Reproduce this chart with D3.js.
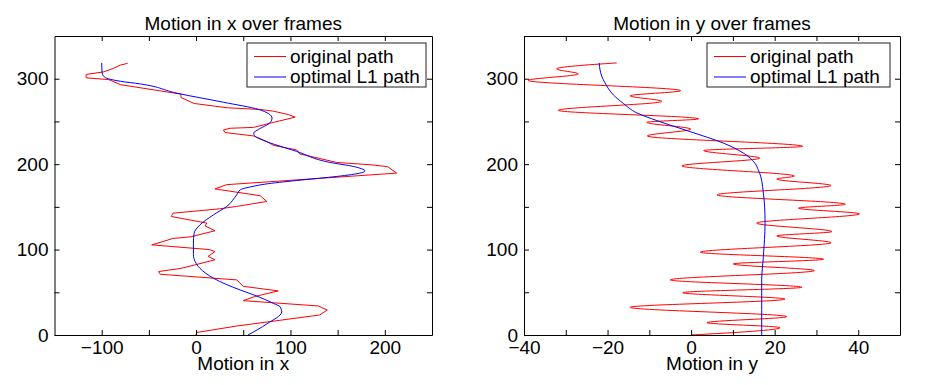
<!DOCTYPE html>
<html>
<head>
<meta charset="utf-8">
<script src="https://cdn.jsdelivr.net/npm/d3@7"></script>
<style>
  html, body { margin: 0; padding: 0; background: #fff; }
  svg text { font-family: "Liberation Sans", Arial, Helvetica, sans-serif; fill: #000; }
</style>
</head>
<body>
<svg id="chart" width="940" height="385"></svg>
<script>
// ---------------- DATA ----------------
// Left panel: motion in x (value) vs frame
const xOrigFrames = [0, 3, 10.5, 23.4, 29.3, 34, 40.2, 45, 51.6, 57, 64.5, 71.1, 74.3, 78, 82, 88, 92, 97.7, 100, 105.5, 109.4, 113, 115, 122, 127.7, 131, 138.7, 142.6, 147.7, 150.5, 156.3, 163, 171, 176, 189.5, 197, 199, 202, 212, 216.6, 222, 226.5, 233, 237, 240, 242, 243, 247, 255, 258, 262, 264, 266, 271, 278, 282, 293, 299, 301, 305, 308, 311.5, 316, 318];
const xOrigValues = [0, 1, 43, 131, 139, 129.6, 50, 62, 87, 50, 43, -38, -39.6, -16, -1.4, 20, 12.7, 20, 14, -47, -35, -24.7, -5.4, 20, 9.6, 11.3, -26.2, -24.5, 25, 43, 75, 68, 20, 32.5, 212.6, 203, 187.7, 149, 110, 106.6, 82, 75, 61, 30.7, 29, 36, 61, 75, 105, 98, 82, 68, 33, -2, -16, -16, -80, -92.6, -116.5, -116.5, -98, -89, -80, -72.5];
const xOptFrames = [0, 13, 27, 33, 37, 47, 52.6, 66.5, 78, 86, 94, 107.5, 119, 129, 140.6, 150.5, 164, 170, 175, 192, 197.3, 202, 214.9, 227.8, 232.5, 236.4, 239.5, 249, 254, 259, 264, 272.4, 283, 293.9, 297, 299.8, 303, 306.8, 318.5];
const xOptValues = [55, 75, 90.7, 89, 82, 61, 47, 18.4, 4.2, -1, -2.8, -2.8, -2.1, 4.2, 18.4, 32.5, 43, 47, 64.7, 179, 166.7, 142, 106.6, 71.4, 62.6, 61, 64.5, 78.8, 80.5, 77, 66.4, 29.3, -20, -59, -80, -92.6, -98, -99.5, -100];

// Right panel: motion in y (value) vs frame
const yOrigFrames = [0, 8.6, 14.5, 21.5, 32.4, 42, 49.6, 55.9, 64.5, 75.4, 83.2, 88.7, 96.9, 108, 116, 121, 131, 141.8, 148.5, 153, 164, 175, 182.5, 186, 198, 207, 216, 220.8, 233, 241, 249, 253, 263, 273.5, 280, 286, 298, 305.6, 311.5, 318.5];
const yOrigValues = [0, 21.3, 3.8, 22.9, -14.6, 22.5, -2, 26.5, -5, 29.5, 10.1, 31.7, 2.2, 33.5, 20.5, 33.7, 15.7, 40.3, 25.7, 36.9, 6.2, 33.5, 20.5, 24.7, -2.2, 16.4, 3, 26.7, -10.5, -0.1, -10.6, 1.8, -31.8, -7, -14.6, -2.5, -39, -27, -32.2, -17.8];
const yOptFrames = [0, 30, 64.5, 92, 131, 150, 166, 174, 185, 193, 201, 213, 224.7, 238, 251, 260, 271, 281, 295, 303, 318.5];
const yOptValues = [16.9, 16.9, 16.9, 17.3, 17.7, 17.6, 17.3, 17.1, 16.7, 16.1, 15.3, 12.5, 7.7, -0.2, -8.2, -13, -16.2, -18.6, -20.6, -21.4, -22];

// Axes / ticks
const frameDomain = [0, 350];
const frameTicks = [0, 50, 100, 150, 200, 250, 300];
const frameTickLabels = [0, 100, 200, 300];
const xDomain = [-150, 250];
const xTicks = [-100, -50, 0, 50, 100, 150, 200];
const xTickLabels = [-100, 0, 100, 200];
const yDomain = [-40, 50];
const yTicks = [-40, -30, -20, -10, 0, 10, 20, 30, 40];
const yTickLabels = [-40, -20, 0, 20, 40];

const seriesNames = ["original path", "optimal L1 path"];
const seriesColors = ["#ff0000", "#0000ff"];
const titles = ["Motion in x over frames", "Motion in y over frames"];
const xLabels = ["Motion in x", "Motion in y"];

// ---------------- DRAW ----------------
const svg = d3.select("#chart");
svg.append("rect").attr("width", 940).attr("height", 385).attr("fill", "#fff");

const FS = 19;
const plotTop = 36, plotBottom = 335;

function fmt(labels) {
  return d => labels.includes(d) ? String(d).replace("-", "\u2212") : "";
}

function panel(o) {
  const g = svg.append("g");
  const x = d3.scaleLinear().domain(o.xDomain).range([o.left, o.right]);
  const y = d3.scaleLinear().domain(frameDomain).range([plotBottom, plotTop]);

  // series
  const series = [
    {f: o.origF, v: o.origV, c: seriesColors[0], curve: o.origCurve},
    {f: o.optF, v: o.optV, c: seriesColors[1], curve: d3.curveMonotoneY}
  ];
  series.forEach(s => {
    const pts = s.f.map((fr, i) => [s.v[i], fr]);
    g.append("path")
      .attr("d", d3.line().x(d => x(d[0])).y(d => y(d[1])).curve(s.curve)(pts))
      .attr("fill", "none").attr("stroke", s.c).attr("stroke-width", 1);
  });

  // axes
  const ax = [
    {a: d3.axisBottom(x).tickValues(o.xTicks).tickFormat(fmt(o.xLabels)), t: `translate(0,${plotBottom})`},
    {a: d3.axisTop(x).tickValues(o.xTicks).tickFormat(""), t: `translate(0,${plotTop})`},
    {a: d3.axisLeft(y).tickValues(frameTicks).tickFormat(fmt(frameTickLabels)), t: `translate(${o.left},0)`},
    {a: d3.axisRight(y).tickValues(frameTicks).tickFormat(""), t: `translate(${o.right},0)`}
  ];
  ax.forEach(A => {
    const ag = g.append("g").attr("transform", A.t)
      .call(A.a.tickSizeInner(-5).tickSizeOuter(0).tickPadding(6));
    ag.selectAll("text").attr("font-size", FS).attr("font-family", "Liberation Sans, Arial, sans-serif").attr("fill", "#000");
    ag.selectAll("line").attr("stroke", "#000");
    ag.select(".domain").attr("stroke", "#000");
  });

  // title & x label
  const cx = (o.left + o.right) / 2;
  g.append("text").attr("x", cx).attr("y", 30).attr("text-anchor", "middle")
    .attr("font-size", FS).text(o.title);
  g.append("text").attr("x", cx).attr("y", 370).attr("text-anchor", "middle")
    .attr("font-size", FS).text(o.xlabel);

  // legend
  const L = g.append("g");
  L.append("rect").attr("x", o.legX).attr("y", 43).attr("width", o.legW).attr("height", 44)
    .attr("fill", "#fff").attr("stroke", "#222").attr("stroke-width", 1);
  seriesNames.forEach((n, i) => {
    const yy = 56.5 + i * 20.5;
    L.append("line").attr("x1", o.legX + 7).attr("x2", o.legX + 39)
      .attr("y1", yy).attr("y2", yy).attr("stroke", seriesColors[i]).attr("stroke-width", 1);
    L.append("text").attr("x", o.legX + 43).attr("y", yy + 6).attr("font-size", FS).text(n);
  });
}

panel({left: 54.5, right: 432, xDomain: xDomain, xTicks: xTicks, xLabels: xTickLabels,
  origF: xOrigFrames, origV: xOrigValues, optF: xOptFrames, optV: xOptValues,
  origCurve: d3.curveLinear, title: titles[0], xlabel: xLabels[0], legX: 247, legW: 179});
panel({left: 524, right: 900, xDomain: yDomain, xTicks: yTicks, xLabels: yTickLabels,
  origF: yOrigFrames, origV: yOrigValues, optF: yOptFrames, optV: yOptValues,
  origCurve: d3.curveMonotoneY, title: titles[1], xlabel: xLabels[1], legX: 707, legW: 183});
</script>
</body>
</html>
